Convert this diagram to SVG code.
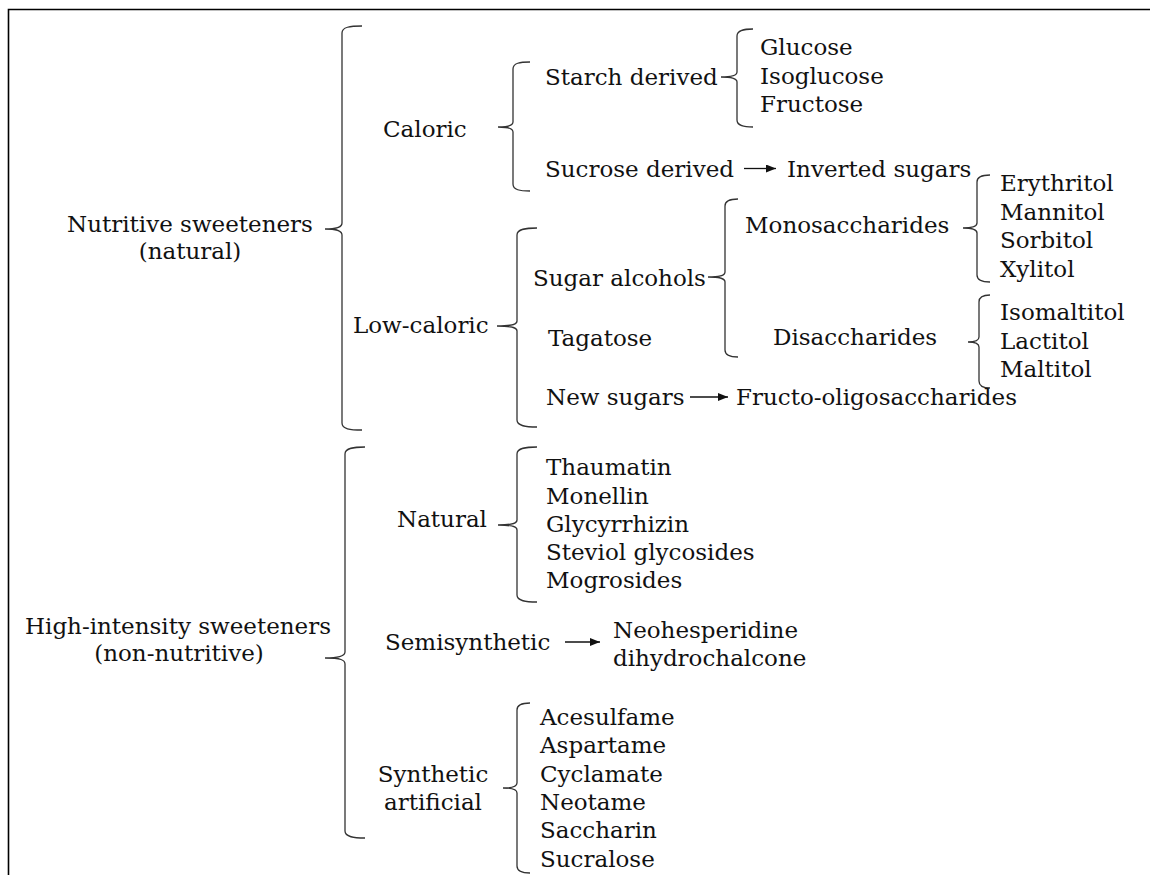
<svg xmlns="http://www.w3.org/2000/svg" width="1150" height="875" viewBox="0 0 1150 875">
<defs>
<style>
text{font-family:"DejaVu Serif","Liberation Serif",serif;font-size:23px;fill:#111}
.c{text-anchor:middle}
.br{fill:none;stroke:#333;stroke-width:1.3}
.ar{stroke:#111;stroke-width:1.3;fill:none}
.frame{stroke:#000;stroke-width:1.6;fill:none}
</style>
<marker id="ah" viewBox="0 0 10 8" refX="10" refY="4" markerWidth="10" markerHeight="8" markerUnits="userSpaceOnUse" orient="auto">
<path d="M0,0 L10,4 L0,8 Z" fill="#111"/>
</marker>
</defs>
<rect width="1150" height="875" fill="#fff"/>
<path class="frame" d="M8.5,875 L8.5,9.5 L1150,9.5"/>

<g id="connectors">
<path class="br" d="M362,26 C350,26 342,27 342,33 L342,223 C342,227 338,229 325,229 C338,229 342,231 342,235 L342,423 C342,429 350,430 362,430"/>
<path class="br" d="M530,62 C520,62 513,63 513,69 L513,122 C513,125 510,127 498,127 C510,127 513,129 513,132 L513,184 C513,190 520,191 530,191"/>
<path class="br" d="M753,29 C744,29 737,30 737,36 L737,72 C737,75 734,77 721,77 C734,77 737,79 737,82 L737,120 C737,126 744,127 753,127"/>
<path class="br" d="M537,228 C526,228 517,229 517,235 L517,321 C517,324 514,326 497,326 C514,326 517,328 517,331 L517,420 C517,426 526,427 537,427"/>
<path class="br" d="M738,199 C731,199 725,200 725,206 L725,272 C725,275 722,277 708,277 C722,277 725,279 725,282 L725,350 C725,356 731,357 738,357"/>
<path class="br" d="M990,175 C983,175 977,176 977,182 L977,223 C977,226 974,228 963,228 C974,228 977,230 977,233 L977,275 C977,281 983,282 990,282"/>
<path class="br" d="M990,295 C984,295 979,296 979,302 L979,337 C979,340 976,342 968,342 C976,342 979,344 979,347 L979,381 C979,387 984,388 990,388"/>
<path class="br" d="M365,447 C354,447 345,448 345,454 L345,652 C345,655 341,658 325,658 C341,658 345,660 345,664 L345,831 C345,837 354,838 365,838"/>
<path class="br" d="M537,447 C526,447 517,448 517,454 L517,520 C517,523 514,525 498,525 C514,525 517,527 517,530 L517,595 C517,601 526,602 537,602"/>
<path class="br" d="M530,703 C523,703 517,704 517,710 L517,783 C517,786 514,788 503,788 C514,788 517,790 517,793 L517,866 C517,872 523,873 530,873"/>
<line class="ar" x1="744" y1="168.5" x2="776" y2="168.5" marker-end="url(#ah)"/>
<line class="ar" x1="690" y1="397" x2="728" y2="397" marker-end="url(#ah)"/>
<line class="ar" x1="565" y1="642" x2="600" y2="642" marker-end="url(#ah)"/>
</g>

<g id="nutritive"><text class="c" x="190" y="232">Nutritive sweeteners</text><text class="c" x="190" y="259">(natural)</text></g>
<g id="caloric"><text x="383" y="137">Caloric</text></g>
<g id="starch"><text x="545" y="85">Starch derived</text></g>
<g id="sucrose"><text x="545" y="177">Sucrose derived</text></g>
<g id="starch-list"><text x="760" y="55">Glucose</text><text x="760" y="83.5">Isoglucose</text><text x="760" y="112">Fructose</text></g>
<g id="inverted"><text x="787" y="177">Inverted sugars</text></g>
<g id="lowcaloric"><text x="353" y="333">Low-caloric</text></g>
<g id="sugaralcohols"><text x="533" y="286">Sugar alcohols</text></g>
<g id="tagatose"><text x="548" y="346">Tagatose</text></g>
<g id="newsugars"><text x="546" y="405">New sugars</text></g>
<g id="fos"><text x="736" y="405">Fructo-oligosaccharides</text></g>
<g id="mono"><text x="745" y="233">Monosaccharides</text></g>
<g id="di"><text x="773" y="345">Disaccharides</text></g>
<g id="mono-list"><text x="1000" y="191">Erythritol</text><text x="1000" y="219.5">Mannitol</text><text x="1000" y="248">Sorbitol</text><text x="1000" y="277">Xylitol</text></g>
<g id="di-list"><text x="1000" y="319.5">Isomaltitol</text><text x="1000" y="348.5">Lactitol</text><text x="1000" y="377">Maltitol</text></g>
<g id="highintensity"><text class="c" x="178" y="634">High-intensity sweeteners</text><text class="c" x="179" y="661">(non-nutritive)</text></g>
<g id="natural"><text x="397" y="527">Natural</text></g>
<g id="natural-list"><text x="546" y="475">Thaumatin</text><text x="546" y="504">Monellin</text><text x="546" y="532">Glycyrrhizin</text><text x="546" y="560">Steviol glycosides</text><text x="546" y="588">Mogrosides</text></g>
<g id="semisynthetic"><text x="385" y="650">Semisynthetic</text></g>
<g id="nhdc"><text x="613" y="638">Neohesperidine</text><text x="613" y="666">dihydrochalcone</text></g>
<g id="synthetic"><text class="c" x="433" y="782">Synthetic</text><text class="c" x="433" y="810">artificial</text></g>
<g id="synthetic-list"><text x="540" y="725">Acesulfame</text><text x="540" y="753">Aspartame</text><text x="540" y="782">Cyclamate</text><text x="540" y="810">Neotame</text><text x="540" y="838">Saccharin</text><text x="540" y="867">Sucralose</text></g>
</svg>
